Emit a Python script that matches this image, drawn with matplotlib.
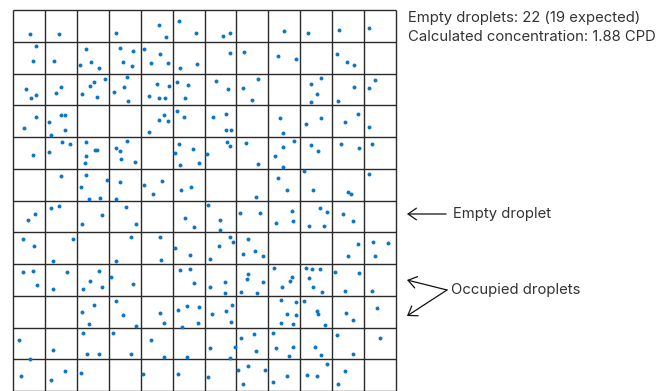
# coding=utf-8

""" droplet grid: 12 x 12 partitions, molecules drawn as dots """

import numpy as np
import matplotlib.pyplot as plt


# field of view, in image units (left/top corner = 0, 0)
N_COLS = 12
N_ROWS = 12
FIELD_W = 382.4
FIELD_H = 381.0

# dot positions, one line per grid row
DOTS_X = [17, 46, 103, 146, 153, 166, 183, 210, 217, 271, 295, 326, 356,
          23, 20, 41, 73, 67, 78, 86, 107, 120, 110, 119, 131, 147, 138, 155, 167, 184, 217, 231, 265, 283, 324, 334, 341,
          13, 18, 23, 48, 43, 92, 81, 77, 69, 84, 114, 111, 101, 115, 144, 156, 136, 146, 152, 164, 175, 172, 203, 215, 245, 230, 239, 308, 298, 304, 298, 341, 325, 362, 356,
          23, 11, 48, 52, 36, 52, 38, 136, 146, 151, 155, 164, 171, 200, 213, 213, 218, 267, 270, 293, 308, 332, 345, 356,
          20, 36, 49, 57, 73, 73, 72, 82, 84, 103, 114, 107, 108, 122, 166, 162, 167, 180, 186, 214, 217, 194, 233, 245, 281, 270, 262, 270, 298, 305, 328, 346, 359,
          48, 73, 68, 76, 87, 94, 107, 103, 131, 140, 149, 168, 178, 265, 274, 243, 291, 300, 335, 338, 356,
          22, 15, 38, 46, 69, 89, 113, 123, 172, 181, 195, 207, 207, 227, 247, 279, 263, 280, 307, 314, 296, 311, 330, 340,
          10, 21, 60, 40, 118, 103, 147, 148, 162, 177, 217, 220, 206, 197, 235, 242, 230, 250, 345, 335, 360, 375, 362,
          10, 20, 24, 40, 54, 86, 77, 70, 89, 98, 120, 167, 177, 181, 197, 212, 212, 235, 234, 250, 228, 244, 261, 279, 277, 269, 293, 299, 307, 296, 300, 309, 322, 346, 332, 359,
          81, 69, 76, 103, 110, 123, 147, 151, 165, 174, 186, 169, 185, 199, 213, 219, 218, 268, 283, 274, 283, 268, 280, 291, 304, 305, 312, 333, 340, 364,
          6, 17, 40, 70, 74, 86, 100, 118, 138, 151, 174, 197, 222, 217, 228, 241, 243, 260, 263, 280, 276, 302, 308, 324, 340, 367,
          8, 38, 52, 68, 130, 165, 195, 225, 235, 252, 230, 260, 274, 314, 294, 304, 332, 325]
DOTS_Y = [24, 24, 23, 15, 27, 11, 23, 26, 23, 21, 23, 20, 18,
          36, 51, 51, 39, 55, 52, 58, 38, 41, 52, 56, 39, 44, 53, 53, 58, 54, 43, 42, 46, 49, 44, 52, 55,
          79, 88, 85, 77, 83, 69, 72, 76, 84, 87, 67, 77, 82, 91, 74, 76, 86, 88, 88, 72, 75, 88, 71, 79, 69, 78, 90, 68, 74, 84, 92, 77, 91, 70, 78,
          107, 118, 105, 105, 112, 120, 125, 122, 110, 105, 111, 101, 107, 107, 104, 120, 120, 108, 123, 114, 108, 112, 104, 117,
          145, 142, 132, 134, 132, 146, 153, 140, 140, 138, 131, 141, 149, 152, 134, 143, 155, 139, 153, 132, 136, 144, 133, 154, 131, 137, 146, 157, 135, 141, 134, 138, 134,
          166, 165, 177, 189, 188, 170, 172, 189, 175, 184, 171, 180, 177, 168, 180, 187, 161, 180, 182, 184, 164,
          204, 210, 198, 196, 214, 205, 197, 214, 208, 217, 195, 210, 220, 203, 203, 201, 213, 211, 198, 202, 216, 216, 204, 211,
          229, 236, 229, 251, 227, 251, 227, 250, 238, 245, 227, 232, 236, 249, 229, 241, 244, 246, 234, 246, 232, 233, 246,
          262, 261, 275, 279, 262, 261, 271, 279, 277, 267, 274, 260, 259, 273, 277, 272, 283, 264, 269, 272, 282, 283, 258, 267, 271, 277, 258, 259, 259, 268, 277, 282, 262, 263, 281, 281,
          295, 302, 314, 291, 305, 316, 303, 313, 300, 296, 297, 317, 313, 304, 301, 295, 312, 290, 292, 304, 305, 313, 314, 291, 301, 304, 315, 303, 310, 298,
          330, 349, 340, 323, 344, 344, 323, 344, 330, 347, 347, 338, 337, 348, 328, 324, 341, 323, 338, 337, 346, 337, 345, 325, 344, 328,
          366, 370, 361, 363, 364, 364, 367, 360, 356, 360, 374, 372, 366, 354, 365, 366, 361, 374]

INFO_LINES = ["Empty droplets: 22 (19 expected)",
              "Calculated concentration: 1.88 CPD"]
LABEL_EMPTY = "Empty droplet"
LABEL_OCCUPIED = "Occupied droplets"


def main():
    fig = plt.figure(figsize=(6.64, 3.91), dpi=100)
    W, H = 664.0, 391.0

    # grid area
    ax = fig.add_axes([13.3 / W, 0, FIELD_W / W, FIELD_H / H])
    ax.set_xlim(0, FIELD_W)
    ax.set_ylim(FIELD_H, 0)
    ax.axis('off')

    xs = np.linspace(0, FIELD_W, N_COLS + 1)
    ys = np.linspace(0, FIELD_H, N_ROWS + 1)
    ax.vlines(xs, 0, FIELD_H, colors='#2a2a2a', linewidth=1.0, clip_on=False)
    ax.hlines(ys, 0, FIELD_W, colors='#2a2a2a', linewidth=1.0, clip_on=False)

    ax.scatter(DOTS_X, DOTS_Y, s=8, color='#0a77c4', linewidths=0, zorder=3)

    # text on the right
    font = dict(family='Inter', color='#333333', fontsize=10.7)
    fig.text(408 / W, 1 - 18 / H, INFO_LINES[0], va='center', ha='left', **font)
    fig.text(408 / W, 1 - 37 / H, INFO_LINES[1], va='center', ha='left', **font)

    fig.text(453 / W, 1 - 214 / H, LABEL_EMPTY, va='center', ha='left', **font)
    fig.text(451 / W, 1 - 290 / H, LABEL_OCCUPIED, va='center', ha='left', **font)

    arrow = dict(arrowstyle='->,head_length=0.6,head_width=0.42', color='#111111',
                 lw=0.9, shrinkA=0, shrinkB=0)
    fig.add_artist(plt.Annotation('', xy=(407 / W, 1 - 214 / H), xytext=(446 / W, 1 - 214 / H),
                                  xycoords='figure fraction', arrowprops=arrow))
    fig.add_artist(plt.Annotation('', xy=(407 / W, 1 - 280 / H), xytext=(447 / W, 1 - 290 / H),
                                  xycoords='figure fraction', arrowprops=arrow))
    fig.add_artist(plt.Annotation('', xy=(407 / W, 1 - 316 / H), xytext=(447 / W, 1 - 290 / H),
                                  xycoords='figure fraction', arrowprops=arrow))

    fig.savefig('out.png', dpi=100)


if __name__ == '__main__':
    main()
